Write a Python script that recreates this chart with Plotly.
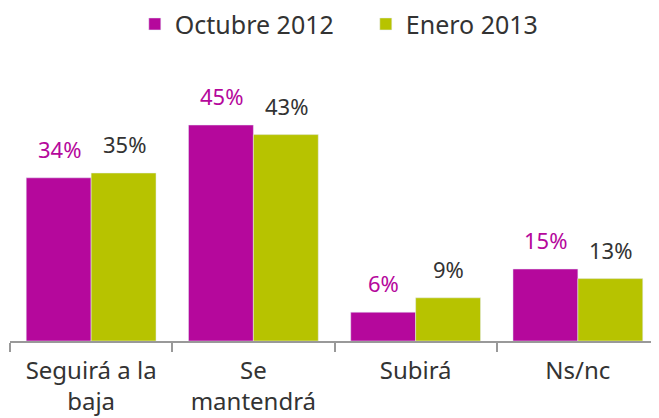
import plotly.graph_objects as go

categories = ["Seguirá a la<br>baja", "Se<br>mantendrá", "Subirá", "Ns/nc"]
octubre_2012 = [34, 45, 6, 15]
enero_2013 = [35, 43, 9, 13]

MAGENTA = "#B5089C"
OLIVE = "#B7C300"
TEXT = "#333333"
FONT = "Noto Sans"

fig = go.Figure()
fig.add_trace(go.Bar(name="Octubre 2012", x=categories, y=octubre_2012, marker_color=MAGENTA))
fig.add_trace(go.Bar(name="Enero 2013", x=categories, y=enero_2013, marker_color=OLIVE))

# value labels above bars
for vals, shift, col in ((octubre_2012, -32, MAGENTA), (enero_2013, 33, TEXT)):
    for c, v in zip(categories, vals):
        fig.add_annotation(x=c, y=v, text=f"{v}%", showarrow=False,
                           xshift=shift, yshift=12, yanchor="bottom",
                           font=dict(size=22, color=col, family=FONT))

fig.update_layout(
    width=651, height=410,
    margin=dict(l=2, r=0, t=93, b=77, autoexpand=False),
    barmode="group", bargap=0.2, bargroupgap=0,
    plot_bgcolor="white", paper_bgcolor="white",
    font=dict(family=FONT, color=TEXT, size=24),
    showlegend=True,
    legend=dict(orientation="h", x=(137 - 12) / 650, xanchor="left", y=1.32, yanchor="middle",
                font=dict(size=25, color=TEXT), itemwidth=30, entrywidth=186,
                traceorder="normal"),
)
fig.update_xaxes(
    automargin=False,
    showline=True, linecolor="#999999", linewidth=2,
    ticks="outside", tickson="boundaries", ticklen=9, tickcolor="#999999", tickwidth=2,
    tickfont=dict(size=24, color=TEXT, family=FONT), ticklabelstandoff=7,
)
fig.update_yaxes(range=[0, 50], visible=False, showgrid=False, automargin=False)

fig.write_html("out.html")
